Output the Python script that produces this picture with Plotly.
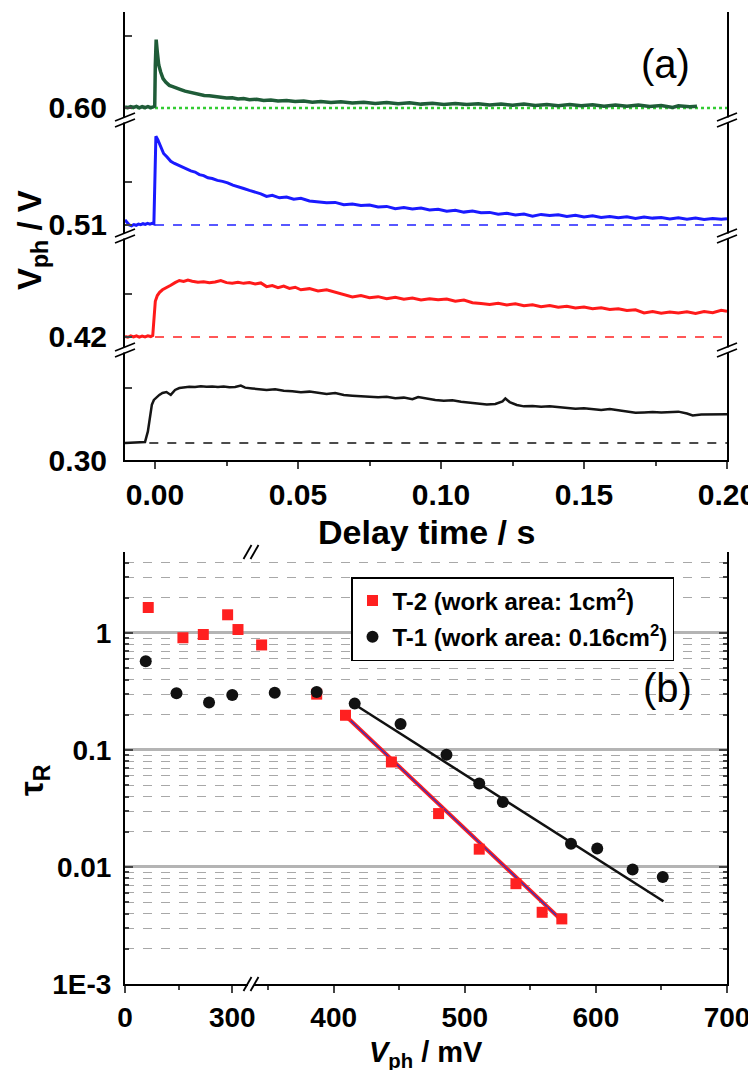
import math
import plotly.graph_objects as go

# ---------------- Panel (a): photovoltage transients ----------------
t_green = [-0.0105, -0.0095, -0.0085, -0.0075, -0.0065, -0.0055, -0.0045, -0.0035, -0.0025, -0.0015,
           -0.0006, -0.0001, 0.0001, 0.0004, 0.0008, 0.0013, 0.0020, 0.0028, 0.0038, 0.0050,
           0.0062, 0.0075, 0.0090, 0.0105, 0.0120, 0.0138, 0.0155, 0.0172, 0.0190, 0.0210,
           0.0230, 0.0250, 0.0270, 0.0290, 0.0310, 0.0330, 0.0355, 0.0380, 0.0405, 0.0430,
           0.0460, 0.0490, 0.0520, 0.0550, 0.0580, 0.0615, 0.0650, 0.0690, 0.0730, 0.0770,
           0.0810, 0.0850, 0.0890, 0.0930, 0.0970, 0.1010, 0.1050, 0.1090, 0.1130, 0.1170,
           0.1210, 0.1250, 0.1290, 0.1330, 0.1370, 0.1410, 0.1450, 0.1490, 0.1530, 0.1570,
           0.1610, 0.1650, 0.1690, 0.1730, 0.1770, 0.1810, 0.1830, 0.1870, 0.1895]
v_green = [0.6008, 0.6002, 0.6010, 0.6004, 0.6011, 0.6001, 0.6009, 0.6003, 0.6010, 0.6002,
           0.6007, 0.6012, 0.6300, 0.6478, 0.6390, 0.6300, 0.6250, 0.6205, 0.6180, 0.6158,
           0.6150, 0.6138, 0.6129, 0.6118, 0.6112, 0.6100, 0.6097, 0.6088, 0.6086, 0.6079,
           0.6076, 0.6070, 0.6072, 0.6063, 0.6066, 0.6058, 0.6061, 0.6053, 0.6056, 0.6049,
           0.6052, 0.6045, 0.6049, 0.6041, 0.6046, 0.6038, 0.6043, 0.6035, 0.6040, 0.6032,
           0.6038, 0.6030, 0.6036, 0.6027, 0.6033, 0.6025, 0.6032, 0.6024, 0.6030, 0.6021,
           0.6028, 0.6019, 0.6027, 0.6018, 0.6025, 0.6016, 0.6024, 0.6015, 0.6022, 0.6013,
           0.6021, 0.6012, 0.6020, 0.6011, 0.6018, 0.6004, 0.6016, 0.6009, 0.6012]

t_blue = [-0.0105, -0.0098, -0.0090, -0.0082, -0.0074, -0.0066, -0.0058, -0.0050, -0.0042, -0.0034,
          -0.0026, -0.0018, -0.0010, -0.0004, 0.0000, 0.0003, 0.0010, 0.0020, 0.0030, 0.0042,
          0.0055, 0.0068, 0.0082, 0.0096, 0.0110, 0.0125, 0.0140, 0.0155, 0.0170, 0.0185,
          0.0200, 0.0218, 0.0236, 0.0254, 0.0272, 0.0290, 0.0310, 0.0330, 0.0350, 0.0370,
          0.0390, 0.0410, 0.0435, 0.0460, 0.0485, 0.0510, 0.0540, 0.0570, 0.0600, 0.0630,
          0.0660, 0.0690, 0.0720, 0.0750, 0.0780, 0.0810, 0.0840, 0.0870, 0.0900, 0.0930,
          0.0960, 0.0990, 0.1020, 0.1050, 0.1080, 0.1110, 0.1140, 0.1170, 0.1200, 0.1230,
          0.1260, 0.1290, 0.1320, 0.1350, 0.1380, 0.1410, 0.1440, 0.1470, 0.1500, 0.1530,
          0.1560, 0.1590, 0.1620, 0.1650, 0.1680, 0.1710, 0.1740, 0.1770, 0.1800, 0.1830,
          0.1860, 0.1890, 0.1920, 0.1950, 0.1980, 0.2000]
v_blue = [0.5136, 0.5118, 0.5100, 0.5094, 0.5103, 0.5098, 0.5106, 0.5102, 0.5109, 0.5104,
          0.5111, 0.5106, 0.5112, 0.5108, 0.5400, 0.5720, 0.5695, 0.5640, 0.5600, 0.5575,
          0.5545, 0.5530, 0.5518, 0.5505, 0.5490, 0.5478, 0.5470, 0.5452, 0.5445, 0.5430,
          0.5425, 0.5412, 0.5405, 0.5395, 0.5378, 0.5365, 0.5355, 0.5342, 0.5330, 0.5318,
          0.5300, 0.5308, 0.5290, 0.5296, 0.5280, 0.5286, 0.5268, 0.5262, 0.5255, 0.5258,
          0.5242, 0.5247, 0.5236, 0.5240, 0.5226, 0.5230, 0.5214, 0.5222, 0.5212, 0.5218,
          0.5205, 0.5210, 0.5196, 0.5203, 0.5190, 0.5198, 0.5186, 0.5188, 0.5176, 0.5182,
          0.5170, 0.5176, 0.5162, 0.5174, 0.5166, 0.5172, 0.5160, 0.5168, 0.5156, 0.5164,
          0.5153, 0.5160, 0.5150, 0.5158, 0.5145, 0.5155, 0.5148, 0.5152, 0.5142, 0.5150,
          0.5140, 0.5148, 0.5138, 0.5146, 0.5140, 0.5144]

t_red = [-0.0105, -0.0095, -0.0085, -0.0075, -0.0065, -0.0055, -0.0045, -0.0035, -0.0025, -0.0015,
         -0.0008, -0.0004, 0.0001, 0.0008, 0.0016, 0.0026, 0.0040, 0.0055, 0.0070, 0.0085,
         0.0100, 0.0115, 0.0130, 0.0150, 0.0170, 0.0190, 0.0210, 0.0230, 0.0250, 0.0270,
         0.0290, 0.0310, 0.0330, 0.0350, 0.0370, 0.0390, 0.0410, 0.0430, 0.0450, 0.0470,
         0.0490, 0.0510, 0.0540, 0.0570, 0.0600, 0.0630, 0.0660, 0.0690, 0.0720, 0.0750,
         0.0780, 0.0810, 0.0840, 0.0870, 0.0900, 0.0930, 0.0960, 0.0990, 0.1020, 0.1050,
         0.1080, 0.1110, 0.1140, 0.1170, 0.1200, 0.1230, 0.1260, 0.1290, 0.1320, 0.1350,
         0.1380, 0.1410, 0.1440, 0.1470, 0.1500, 0.1530, 0.1560, 0.1590, 0.1620, 0.1650,
         0.1680, 0.1710, 0.1740, 0.1770, 0.1800, 0.1830, 0.1860, 0.1890, 0.1920, 0.1950,
         0.1980, 0.2000]
v_red = [0.4204, 0.4198, 0.4207, 0.4200, 0.4208, 0.4199, 0.4206, 0.4201, 0.4208, 0.4203,
         0.4210, 0.4300, 0.4450, 0.4490, 0.4512, 0.4530, 0.4548, 0.4562, 0.4580, 0.4595,
         0.4588, 0.4598, 0.4590, 0.4582, 0.4586, 0.4580, 0.4584, 0.4595, 0.4580, 0.4576,
         0.4583, 0.4575, 0.4580, 0.4570, 0.4578, 0.4552, 0.4560, 0.4545, 0.4556, 0.4540,
         0.4548, 0.4530, 0.4538, 0.4522, 0.4530, 0.4512, 0.4498, 0.4480, 0.4490, 0.4475,
         0.4482, 0.4468, 0.4478, 0.4464, 0.4472, 0.4458, 0.4468, 0.4460, 0.4466, 0.4450,
         0.4458, 0.4440, 0.4434, 0.4428, 0.4436, 0.4424, 0.4432, 0.4418, 0.4425, 0.4412,
         0.4420, 0.4408, 0.4414, 0.4402, 0.4410, 0.4398, 0.4405, 0.4392, 0.4398, 0.4385,
         0.4390, 0.4368, 0.4378, 0.4366, 0.4375, 0.4368, 0.4376, 0.4365, 0.4378, 0.4370,
         0.4386, 0.4380]

t_black = [-0.0105, -0.0080, -0.0060, -0.0045, -0.0035, -0.0025, -0.0018, -0.0011, -0.0004, 0.0005,
           0.0015, 0.0026, 0.0040, 0.0055, 0.0070, 0.0085, 0.0100, 0.0120, 0.0140, 0.0160,
           0.0180, 0.0200, 0.0220, 0.0240, 0.0260, 0.0280, 0.0300, 0.0315, 0.0340, 0.0365,
           0.0390, 0.0420, 0.0450, 0.0480, 0.0510, 0.0540, 0.0570, 0.0600, 0.0630, 0.0660,
           0.0690, 0.0720, 0.0750, 0.0780, 0.0810, 0.0840, 0.0870, 0.0900, 0.0920, 0.0950,
           0.0980, 0.1010, 0.1040, 0.1070, 0.1100, 0.1130, 0.1160, 0.1190, 0.1215, 0.1225,
           0.1240, 0.1265, 0.1290, 0.1320, 0.1350, 0.1380, 0.1410, 0.1440, 0.1470, 0.1500,
           0.1530, 0.1560, 0.1590, 0.1620, 0.1650, 0.1680, 0.1710, 0.1740, 0.1770, 0.1800,
           0.1830, 0.1860, 0.1880, 0.1910, 0.1940, 0.1970, 0.2000]
v_black = [0.3119, 0.3121, 0.3119, 0.3122, 0.3125, 0.3200, 0.3290, 0.3387, 0.3420, 0.3440,
           0.3455, 0.3469, 0.3475, 0.3455, 0.3490, 0.3503, 0.3508, 0.3512, 0.3510, 0.3516,
           0.3512, 0.3514, 0.3510, 0.3513, 0.3508, 0.3511, 0.3520, 0.3506, 0.3500, 0.3496,
           0.3490, 0.3494, 0.3484, 0.3480, 0.3474, 0.3478, 0.3468, 0.3462, 0.3468, 0.3455,
           0.3450, 0.3446, 0.3444, 0.3438, 0.3442, 0.3432, 0.3436, 0.3425, 0.3440, 0.3428,
           0.3420, 0.3414, 0.3418, 0.3408, 0.3402, 0.3394, 0.3388, 0.3392, 0.3410, 0.3430,
           0.3405, 0.3385, 0.3375, 0.3378, 0.3372, 0.3376, 0.3370, 0.3366, 0.3358, 0.3362,
           0.3355, 0.3350, 0.3356, 0.3348, 0.3338, 0.3330, 0.3332, 0.3335, 0.3332, 0.3334,
           0.3338, 0.3325, 0.3312, 0.3318, 0.3320, 0.3317, 0.3320]

# dark-level baselines (level, start time, end time)
base_green = [0.600, -0.0105, 0.200]
base_blue = [0.510, 0.000, 0.200]
base_red = [0.420, 0.000, 0.200]
base_black = [0.3119, -0.002, 0.200]

# y-axis segments (broken axis) and their labels
seg_ranges = [[0.300, 0.3769], [0.4109, 0.4906], [0.5023, 0.5834], [0.5916, 0.6671]]
seg_labels = ["0.30", "0.42", "0.51", "0.60"]
seg_minor = [0.35, 0.45, 0.54, 0.65]
delay_ticks = [0.00, 0.05, 0.10, 0.15, 0.20]

# ---------------- Panel (b): recombination time ----------------
t2_vph = [65, 162, 219, 287, 316, 345, 387, 409, 444, 480, 511, 539, 559, 574]
t2_tau = [1.65, 0.91, 0.97, 1.43, 1.07, 0.79, 0.30, 0.198, 0.079, 0.0286, 0.0142, 0.0072, 0.0041, 0.0036]
t1_vph = [58, 144, 235, 300, 355, 387, 416, 451, 486, 511, 529, 581, 601, 628, 651]
t1_tau = [0.574, 0.305, 0.254, 0.295, 0.309, 0.313, 0.249, 0.167, 0.091, 0.0516, 0.0359, 0.0158,
          0.0144, 0.0095, 0.0082]
fit2_vph = [408.6, 575.0]
fit2_tau = [0.198, 0.0034]
fit1_vph = [415.7, 651.5]
fit1_tau = [0.246, 0.0051]
left_range = [0, 352.4]
right_range = [336.9, 700]
split_mv = 335
tau_ticks = [0.001, 0.01, 0.1, 1]
tau_labels = ["1E-3", "0.01", "0.1", "1"]

# ---------------- geometry helpers ----------------
W, H = 756, 1070
ML, MR, MT, MB = 117, 37, 4, 94
PW = W - ML - MR
PH = H - MT - MB
XR = W - MR  # right edge of plotting area in pixels


def px(x):
    return (x - ML) / PW


def py(y):
    return (H - MB - y) / PH


seg_px = [452, 342, 228, 112, 4]
top_dom = [[py(seg_px[i]), py(seg_px[i + 1])] for i in range(4)]
bot_dom = [py(976), py(544)]
xbreak = px(243)

FONT = "Liberation Sans, Arial, sans-serif"
fig = go.Figure()

# ---- panel (a) traces ----
base_specs = [(base_black, "#111111", "dash", 1.5, "y"),
              (base_red, "#ff2020", "dash", 1.5, "y2"),
              (base_blue, "#2020ff", "dash", 1.5, "y3"),
              (base_green, "#33cc33", "dot", 2.5, "y4")]
for b, col, dash, w, ya in base_specs:
    fig.add_trace(go.Scatter(x=[b[1], b[2]], y=[b[0], b[0]], mode="lines", xaxis="x", yaxis=ya,
                             line=dict(color=col, dash=dash, width=w), showlegend=False,
                             hoverinfo="skip"))

trace_specs = [(t_black, v_black, "#151515", 2.5, "y"),
               (t_red, v_red, "#ff1a1a", 3, "y2"),
               (t_blue, v_blue, "#1a1aff", 3, "y3"),
               (t_green, v_green, "#1f5c38", 3.5, "y4")]
for tt, vv, col, w, ya in trace_specs:
    fig.add_trace(go.Scatter(x=tt, y=vv, mode="lines", xaxis="x", yaxis=ya,
                             line=dict(color=col, width=w), showlegend=False))


# ---- panel (b) traces ----
def split(xs, ys, left):
    pts = [(a, b) for a, b in zip(xs, ys) if (a <= split_mv) == left]
    return [p[0] for p in pts], [p[1] for p in pts]


series = [("T-2 (work area: 1cm<sup>2</sup>)", t2_vph, t2_tau, "square", "#ff2020", 11, "t2"),
          ("T-1 (work area: 0.16cm<sup>2</sup>)", t1_vph, t1_tau, "circle", "#111111", 12, "t1")]

fig.add_trace(go.Scatter(x=fit1_vph, y=fit1_tau, mode="lines", xaxis="x4", yaxis="y6",
                         line=dict(color="#111111", width=2.5), showlegend=False))
fig.add_trace(go.Scatter(x=fit2_vph, y=fit2_tau, mode="lines", xaxis="x4", yaxis="y6",
                         line=dict(color="#ff2020", width=4), showlegend=False))
fig.add_trace(go.Scatter(x=fit2_vph, y=fit2_tau, mode="lines", xaxis="x4", yaxis="y6",
                         line=dict(color="#3030c0", width=1.2), showlegend=False))

for name, xs, ys, sym, col, size, grp in series:
    lx, ly = split(xs, ys, True)
    rx, ry = split(xs, ys, False)
    fig.add_trace(go.Scatter(x=lx, y=ly, mode="markers", xaxis="x3", yaxis="y5", name=name,
                             legendgroup=grp, marker=dict(symbol=sym, size=size, color=col)))
    fig.add_trace(go.Scatter(x=rx, y=ry, mode="markers", xaxis="x4", yaxis="y6", name=name,
                             legendgroup=grp, showlegend=False,
                             marker=dict(symbol=sym, size=size, color=col)))

# ---------------- axes ----------------
tickfont_a = dict(family=FONT, size=30, color="black", weight="bold")
tickfont_b = dict(family=FONT, size=28, color="black", weight="bold")
line_kw = dict(showline=True, linecolor="black", linewidth=2, showgrid=False, zeroline=False)

lay = dict(
    xaxis=dict(domain=[0, 1], anchor="y", range=[-0.0105, 0.2], tickvals=delay_ticks,
               ticktext=["%.2f" % v for v in delay_ticks], ticks="outside", ticklen=7, tickwidth=2,
               minor=dict(tick0=0, dtick=0.025, ticks="outside", ticklen=4, tickwidth=2),
               tickfont=tickfont_a, ticklabelstandoff=0, **line_kw),
    xaxis2=dict(domain=[0, 1], anchor="y4", side="top", range=[-0.0105, 0.2], tickvals=delay_ticks,
                showticklabels=False, ticks="inside", ticklen=7, tickwidth=2,
                minor=dict(tick0=0, dtick=0.025, ticks="inside", ticklen=4, tickwidth=2), **line_kw),
    xaxis3=dict(domain=[0, xbreak], anchor="y5", range=left_range, tickvals=[0, 300],
                ticks="outside", ticklen=7, tickwidth=2,
                minor=dict(tickvals=[150], ticks="outside", ticklen=4, tickwidth=2),
                tickfont=tickfont_b, ticklabelstandoff=0, **line_kw),
    xaxis4=dict(domain=[xbreak, 1], anchor="y6", range=right_range, tickvals=[400, 500, 600, 700],
                ticks="outside", ticklen=7, tickwidth=2,
                minor=dict(tickvals=[350, 450, 550, 650], ticks="outside", ticklen=4, tickwidth=2),
                tickfont=tickfont_b, ticklabelstandoff=0, **line_kw),
    xaxis5=dict(domain=[0, xbreak], anchor="y5", side="top", range=left_range, tickvals=[0, 300],
                showticklabels=False, ticks="inside", ticklen=7, tickwidth=2,
                minor=dict(tickvals=[150], ticks="inside", ticklen=4, tickwidth=2), **line_kw),
    xaxis6=dict(domain=[xbreak, 1], anchor="y6", side="top", range=right_range,
                tickvals=[400, 500, 600, 700], showticklabels=False, ticks="inside", ticklen=7,
                tickwidth=2, minor=dict(tickvals=[350, 450, 550, 650], ticks="inside", ticklen=4,
                                        tickwidth=2), **line_kw),
)
for i in range(4):
    key = "yaxis" if i == 0 else "yaxis%d" % (i + 1)
    lay[key] = dict(domain=top_dom[i], anchor="x", range=seg_ranges[i],
                    tickvals=[float(seg_labels[i]), seg_minor[i]], ticktext=[seg_labels[i], " "],
                    ticks="inside", ticklen=7, tickwidth=2, tickfont=tickfont_a, ticklabelstandoff=10,
                    mirror=True, **line_kw)

minor_tau = [m * 10 ** e for e in (-3, -2, -1, 0) for m in range(2, 10) if m * 10 ** e < 4.9]
logax = dict(type="log", range=[-3, math.log10(4.92)], tickvals=tau_ticks, ticktext=tau_labels,
             ticks="inside", ticklen=8, tickwidth=2, tickfont=tickfont_b, ticklabelstandoff=6,
             showline=True, linecolor="black", linewidth=2, zeroline=False,
             showgrid=True, gridcolor="#b4b4b4", gridwidth=2.5,
             minor=dict(tickvals=minor_tau, ticks="inside", ticklen=4, tickwidth=1.5,
                        showgrid=True, gridcolor="#a8a8a8", gridwidth=1, griddash="dash"))
lay["yaxis5"] = dict(domain=bot_dom, anchor="x3", **logax)
lay["yaxis6"] = dict(domain=bot_dom, anchor="x4", side="right", matches="y5", **logax)
lay["yaxis6"]["showticklabels"] = False

# ---------------- break marks ----------------
shapes = []


def pline(x0, y0, x1, y1, w=1.8):
    shapes.append(dict(type="line", xref="paper", yref="paper", x0=px(x0), y0=py(y0),
                       x1=px(x1), y1=py(y1), line=dict(color="black", width=w), layer="above"))


def prect(x0, y0, x1, y1):
    shapes.append(dict(type="rect", xref="paper", yref="paper", x0=px(x0), y0=py(y0),
                       x1=px(x1), y1=py(y1), fillcolor="white", line=dict(width=0), layer="above"))


for yc in (342, 228, 112):
    for xc in (ML, XR):
        prect(xc - 2.5, yc - 2.5, xc + 2.5, yc + 2.5)
for yc in (342, 228, 112):
    for xc in (ML, XR):
        for off in (-3, 3):
            pline(xc - 10, yc + off + 4, xc + 10, yc + off - 4)

for yc in (544, 976):
    prect(240, yc - 2.5, 246, yc + 2.5)
for yc in (544, 976):
    for off in (-3.5, 3.5):
        pline(243 + off - 4, yc + 7, 243 + off + 4, yc - 7)


# ---------------- annotations ----------------
def ann(text, x, y, size, angle=0, weight="bold"):
    return dict(text=text, x=px(x), y=py(y), xref="paper", yref="paper", showarrow=False,
                textangle=angle, xanchor="center", yanchor="middle",
                font=dict(family=FONT, size=size, color="black", weight=weight))


annotations = [
    ann("(a)", 657, 56, 40, weight="normal"),
    ann("(b)", 659, 680, 40, weight="normal"),
    ann("V<sub>ph</sub> / V", 24, 232, 33, angle=-90),
    ann("Delay time / s", 418, 524, 34),
    ann("τ<sub>R</sub>", 26, 772, 33, angle=-90),
    ann("<i>V</i><sub>ph</sub> / mV", 418, 1046, 29),
]

fig.update_layout(
    width=W, height=H, margin=dict(l=ML, r=MR, t=MT, b=MB, autoexpand=False),
    paper_bgcolor="white", plot_bgcolor="white",
    font=dict(family=FONT, size=22, color="black", weight="bold"),
    shapes=shapes, annotations=annotations,
    legend=dict(x=px(343), y=py(569), xanchor="left", yanchor="top", bgcolor="white",
                bordercolor="black", borderwidth=1.5, tracegroupgap=2,
                font=dict(family=FONT, size=24, color="black", weight="bold")),
    **lay,
)

fig.write_html("out.html")
